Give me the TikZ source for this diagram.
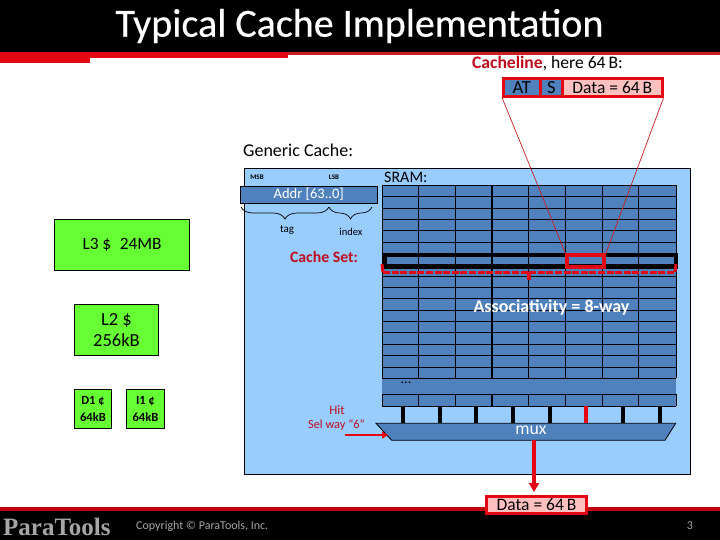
\documentclass[tikz,border=0pt]{standalone}
\usepackage{fontspec}
\setmainfont{Carlito}
\newfontfamily\logofont{Liberation Serif}
\newfontfamily\titlefont[FakeBold=0.4]{Carlito}
\usetikzlibrary{decorations.pathreplacing,arrows.meta}
\definecolor{cellblue}{HTML}{4F81BD}
\definecolor{panelblue}{HTML}{99CCFF}
\definecolor{cachegreen}{HTML}{66FF33}
\definecolor{hotred}{HTML}{E30613}
\definecolor{rulered}{HTML}{C81E1E}
\definecolor{lblred}{HTML}{C00D1E}
\definecolor{pink}{HTML}{FFC0C0}
\definecolor{footgray}{HTML}{A6A6A6}
\tikzset{
  x=1pt,y=-1pt,
  greenbox/.style={draw=black,line width=0.9pt,fill=cachegreen,inner sep=0,align=center},
  lineof/.style={draw=rulered,line width=0.7pt},
}
\begin{document}
\begin{tikzpicture}[line join=miter]
\useasboundingbox (0,0) rectangle (720,540);
\fill[white] (0,0) rectangle (720,540);
% title and footer bands
\fill[black] (0,0) rectangle (720,52);
\fill[hotred] (0,52) rectangle (90,63);
\fill[hotred] (90,52) rectangle (288,58.5);
\fill[rulered] (288,52) rectangle (720,55.5);
\fill[black] (0,509) rectangle (720,540);
\fill[hotred!85!black] (0,507) rectangle (720,510.5);
\node[font=\titlefont\fontsize{40}{40}\selectfont,text=white,anchor=base,inner sep=0] (title) at (359.5,36.7) {Typical Cache Implementation};
% panel
\node[draw=black,line width=0.8pt,fill=panelblue,minimum width=445.5pt,minimum height=306pt,inner sep=0,anchor=north west] (panel) at (244.3,168.3) {};
\node[font=\fontsize{18}{18}\selectfont,anchor=west,inner sep=0] (generic) at (243,150) {Generic Cache:};
\node[font=\fontsize{16}{16}\selectfont,anchor=west,inner sep=0] (sram) at (384,177) {SRAM:};
\node[font=\bfseries\fontsize{7}{7}\selectfont,inner sep=0] (msb) at (257,177) {MSB};
\node[font=\bfseries\fontsize{7}{7}\selectfont,inner sep=0] (lsb) at (334,177) {LSB};
\node[draw=black,line width=0.8pt,fill=cellblue,text=white,minimum width=136.7pt,minimum height=17pt,inner sep=0,anchor=north west,font=\fontsize{14.5}{14.5}\selectfont] (addr) at (240,185.7) {Addr [63..0]};
\coordinate (ba) at (241,207);
\coordinate (bb) at (329,207);
\coordinate (bc) at (372,207);
\draw[line width=0.7pt,decorate,decoration={brace,mirror,amplitude=12pt}] (ba) -- (bb);
\draw[line width=0.7pt,decorate,decoration={brace,mirror,amplitude=12pt}] (bb) -- (bc);
\node[font=\fontsize{11}{11}\selectfont,inner sep=0] (tag) at (287,230) {tag};
\node[font=\fontsize{10.5}{10.5}\selectfont,inner sep=0] (index) at (351,232) {index};
\node[font=\bfseries\fontsize{15.8}{15.8}\selectfont,text=lblred,inner sep=0] (cset) at (324,257) {Cache Set:};
% SRAM grid
\fill[cellblue] (382,185.3) rectangle (676,406.3);
\foreach \k in {0,...,17}{
  \draw[black,line width=0.8pt] (382,185.3+11.35*\k) -- (676,185.3+11.35*\k);
}
\draw[black,line width=0.8pt] (382,394.3) -- (676,394.3);
\draw[black,line width=0.8pt] (382,406.3) -- (676,406.3);
\foreach \x in {382,418,455.5,528,565.5,602,638.5,676}{
  \draw[black,line width=0.8pt] (\x,185.3) -- (\x,378.3);
  \draw[black,line width=0.8pt] (\x,394.3) -- (\x,406.3);
}
\draw[black,line width=1.4pt] (492,185.3) -- (492,378.3);
\draw[black,line width=1.4pt] (492,394.3) -- (492,406.3);
\node[font=\fontsize{14}{14}\selectfont,inner sep=0,text=black] (dots) at (406,383) {...};
\node[font=\bfseries\fontsize{18}{18}\selectfont,text=white,inner sep=0] (assoc) at (551.5,307.5) {Associativity = 8-way};
% cache set
\node[draw=black,line width=4pt,minimum width=291pt,minimum height=12pt,inner sep=0,anchor=north west] (setbox) at (383,253) {};
\node[draw=hotred,line width=4pt,minimum width=36.7pt,minimum height=12pt,inner sep=0,anchor=north west] (linebox) at (565.3,253) {};
\coordinate (dl) at (382,264);
\coordinate (dlb) at (383,272);
\coordinate (drb) at (675,272);
\coordinate (dr) at (676,264);
\coordinate (dc) at (528.5,272);
\coordinate (dct) at (528.5,280);
\draw[hotred,line width=3pt] (dl) -- (dlb);
\draw[hotred,line width=3pt] (dr) -- (drb);
\draw[hotred,line width=3pt,dash pattern=on 7pt off 1.6pt] (dlb) -- (drb);
\draw[hotred,line width=4pt] (dc) -- (dct);
% cacheline
\node[font=\fontsize{17.6}{17.6}\selectfont,inner sep=0] (clabel) at (547.5,63.5) {\textcolor{lblred}{\bfseries Cacheline}, here 64\,B:};
\node[draw=hotred,line width=2.6pt,fill=cellblue,minimum width=37pt,minimum height=18pt,inner sep=0,anchor=north west,font=\fontsize{18.5}{18.5}\selectfont] (at) at (502,77) {AT};
\node[draw=hotred,line width=2.6pt,fill=cellblue,minimum width=22pt,minimum height=18pt,inner sep=0,anchor=north west,font=\fontsize{18.5}{18.5}\selectfont] (s) at (539,77) {S};
\node[draw=hotred,line width=2.6pt,fill=pink,minimum width=100pt,minimum height=18pt,inner sep=0,anchor=north west,font=\fontsize{17.5}{17.5}\selectfont] (d) at (561,77) {Data = 64\,B};
\draw[lineof] (at.south west) -- (linebox.north west);
\draw[lineof] (d.south east) -- (linebox.north east);
% mux
\coordinate (ma) at (376,423.3);
\coordinate (mb) at (675.7,423.3);
\coordinate (mc) at (665,440.3);
\coordinate (md) at (391.7,440.3);
\draw[black,line width=0.8pt,fill=cellblue] (ma) -- (mb) -- (mc) -- (md) -- cycle;
\node[font=\fontsize{17.8}{17.8}\selectfont,text=white,inner sep=0] (mux) at (531,430.5) {mux};
\foreach \x/\c in {403/black,440/black,476/black,513/black,550/black,586/hotred,623/black,660/black}{
  \coordinate (wt\x) at (\x,406.3);
  \coordinate (wb\x) at (\x,423.3);
  \draw[line width=3.6pt,draw=\c] (wt\x) -- (wb\x);
}
% data out
\node[draw=hotred,line width=2.6pt,fill=pink,minimum width=100pt,minimum height=17.5pt,inner sep=0,font=\fontsize{17.5}{17.5}\selectfont] (dout) at (536.5,505) {Data = 64\,B};
\coordinate (mout) at (534,440.3);
\coordinate (mend) at (534,492);
\draw[hotred,line width=4pt,-{Triangle[length=9pt,width=10pt]}] (mout) -- (mend);
% hit
\node[font=\fontsize{13}{13}\selectfont,text=lblred,inner sep=0] (hit) at (337,410) {Hit};
\node[font=\fontsize{12.3}{12.3}\selectfont,text=lblred,inner sep=0] (sel) at (336.5,425) {Sel way ``6''};
\coordinate (hs) at (345,435);
\coordinate (he) at (388,435);
\draw[hotred,line width=1.6pt,-{Triangle[length=6pt,width=7pt]}] (hs) -- (he);
% hierarchy
\node[greenbox,minimum width=135.3pt,minimum height=51pt,anchor=north west,font=\fontsize{17.3}{17.3}\selectfont] (l3) at (54,219.3) {L3 \$\enspace 24MB};
\node[greenbox,minimum width=83.4pt,minimum height=51pt,anchor=north west,font=\fontsize{18.5}{21}\selectfont] (l2) at (74.3,304.3) {L2 \$\\256kB};
\node[greenbox,minimum width=36.4pt,minimum height=38.7pt,anchor=north west,font=\bfseries\fontsize{12.5}{17}\selectfont] (d1) at (74.3,389.3) {D1 ¢\\64kB};
\node[greenbox,minimum width=37.4pt,minimum height=38.7pt,anchor=north west,font=\bfseries\fontsize{12.5}{17}\selectfont] (i1) at (126.3,389.3) {I1 ¢\\64kB};
% footer
\node[font=\logofont\bfseries\fontsize{25}{25}\selectfont,text=footgray,inner sep=0,anchor=west] (logo) at (3,526.5) {ParaTools};
\node[font=\fontsize{12}{12}\selectfont,text=footgray,inner sep=0,anchor=west] (copy) at (136,526) {Copyright © ParaTools, Inc.};
\node[font=\fontsize{12}{12}\selectfont,text=footgray,inner sep=0] (pnum) at (690,526) {3};
\end{tikzpicture}
\end{document}
